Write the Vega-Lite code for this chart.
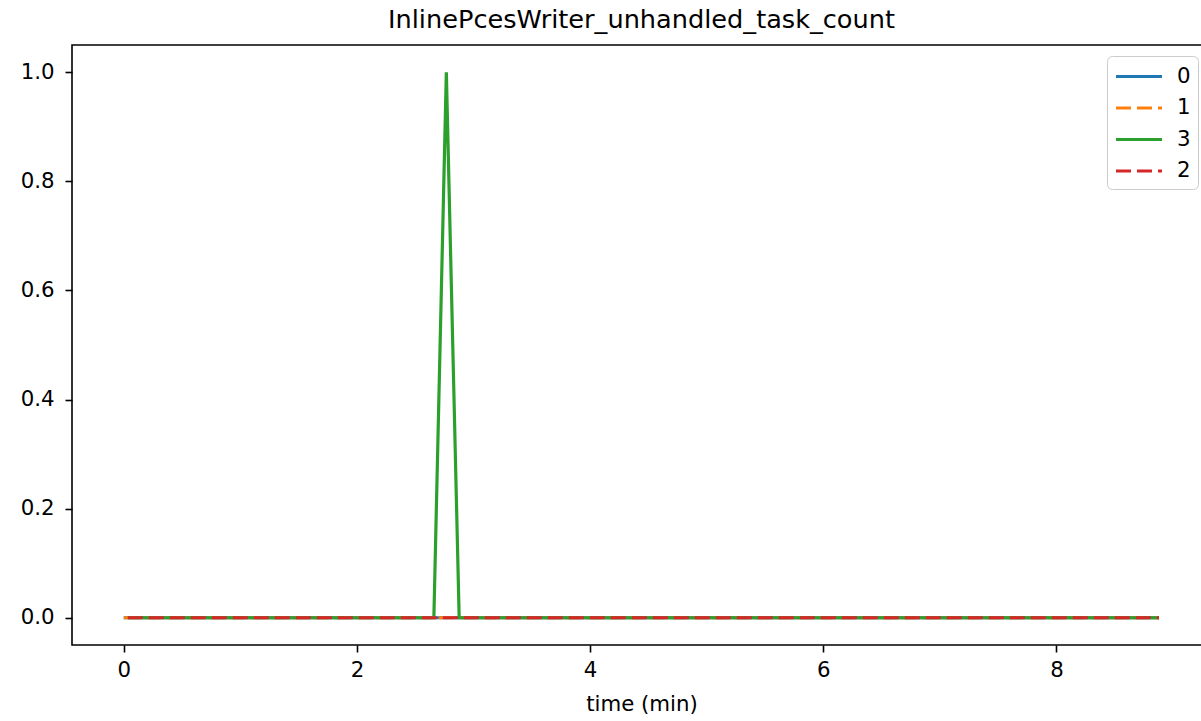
{
  "$schema": "https://vega.github.io/schema/vega-lite/v6.json",
  "width": 1139,
  "height": 600,
  "autosize": {"type": "none"},
  "padding": {"left": 72, "top": 45, "right": 0, "bottom": 76},
  "background": "white",
  "title": {
    "text": "InlinePcesWriter_unhandled_task_count",
    "font": "DejaVu Sans",
    "fontSize": 25.6,
    "fontWeight": "normal",
    "color": "#000000",
    "anchor": "middle",
    "baseline": "alphabetic",
    "offset": 16,
    "dy": 25
  },
  "config": {
    "view": {"stroke": "#000000", "strokeWidth": 1.6},
    "axis": {
      "domain": false,
      "grid": false,
      "tickColor": "#000000",
      "tickSize": 7,
      "tickWidth": 1.6,
      "labelFont": "DejaVu Sans",
      "labelFontSize": 21.3,
      "labelColor": "#000000",
      "labelPadding": 7,
      "titleFont": "DejaVu Sans",
      "titleFontSize": 21.3,
      "titleFontWeight": "normal",
      "titleColor": "#000000"
    }
  },
  "data": {
    "values": [
      {"series": "0", "t": 0.0, "v": 0},
      {"series": "0", "t": 2.66, "v": 0},
      {"series": "0", "t": 2.77, "v": 0},
      {"series": "0", "t": 2.88, "v": 0},
      {"series": "0", "t": 8.88, "v": 0},
      {"series": "1", "t": 0.0, "v": 0},
      {"series": "1", "t": 2.66, "v": 0},
      {"series": "1", "t": 2.77, "v": 0},
      {"series": "1", "t": 2.88, "v": 0},
      {"series": "1", "t": 8.88, "v": 0},
      {"series": "3", "t": 0.035, "v": 0},
      {"series": "3", "t": 2.66, "v": 0},
      {"series": "3", "t": 2.767, "v": 1},
      {"series": "3", "t": 2.877, "v": 0},
      {"series": "3", "t": 8.88, "v": 0},
      {"series": "2", "t": 0.035, "v": 0},
      {"series": "2", "t": 2.66, "v": 0},
      {"series": "2", "t": 2.77, "v": 0},
      {"series": "2", "t": 2.88, "v": 0},
      {"series": "2", "t": 8.88, "v": 0}
    ]
  },
  "mark": {"type": "line", "strokeWidth": 3.2, "clip": true},
  "encoding": {
    "x": {
      "field": "t",
      "type": "quantitative",
      "title": "time (min)",
      "scale": {"domain": [-0.444, 9.326], "nice": false, "zero": false},
      "axis": {"values": [0, 2, 4, 6, 8], "format": "d", "titlePadding": 13}
    },
    "y": {
      "field": "v",
      "type": "quantitative",
      "title": null,
      "scale": {"domain": [-0.05, 1.05], "nice": false, "zero": false},
      "axis": {"values": [0, 0.2, 0.4, 0.6, 0.8, 1.0], "format": ".1f", "labelPadding": 11}
    },
    "color": {
      "field": "series",
      "type": "nominal",
      "scale": {"domain": ["0", "1", "3", "2"], "range": ["#1f77b4", "#ff7f0e", "#2ca02c", "#d62728"]},
      "legend": {
        "title": null,
        "orient": "none",
        "legendX": 1035,
        "legendY": 11,
        "symbolType": "M-1,0H3",
        "symbolSize": 529,
        "symbolStrokeWidth": 3.2,
        "labelFont": "DejaVu Sans",
        "labelFontSize": 21.3,
        "labelColor": "#000000",
        "labelOffset": 36,
        "rowPadding": 7.5,
        "padding": 7,
        "fillColor": "rgba(255,255,255,0.8)",
        "strokeColor": "#cccccc",
        "cornerRadius": 5
      }
    },
    "strokeDash": {
      "field": "series",
      "type": "nominal",
      "scale": {"domain": ["0", "1", "3", "2"], "range": [[1, 0], [15, 6], [1, 0], [15, 6]]},
      "legend": {
        "title": null,
        "orient": "none",
        "legendX": 1035,
        "legendY": 11,
        "symbolType": "M-1,0H3",
        "symbolSize": 529,
        "symbolStrokeWidth": 3.2,
        "labelFont": "DejaVu Sans",
        "labelFontSize": 21.3,
        "labelColor": "#000000",
        "labelOffset": 36,
        "rowPadding": 7.5,
        "padding": 7,
        "fillColor": "rgba(255,255,255,0.8)",
        "strokeColor": "#cccccc",
        "cornerRadius": 5
      }
    }
  }
}
